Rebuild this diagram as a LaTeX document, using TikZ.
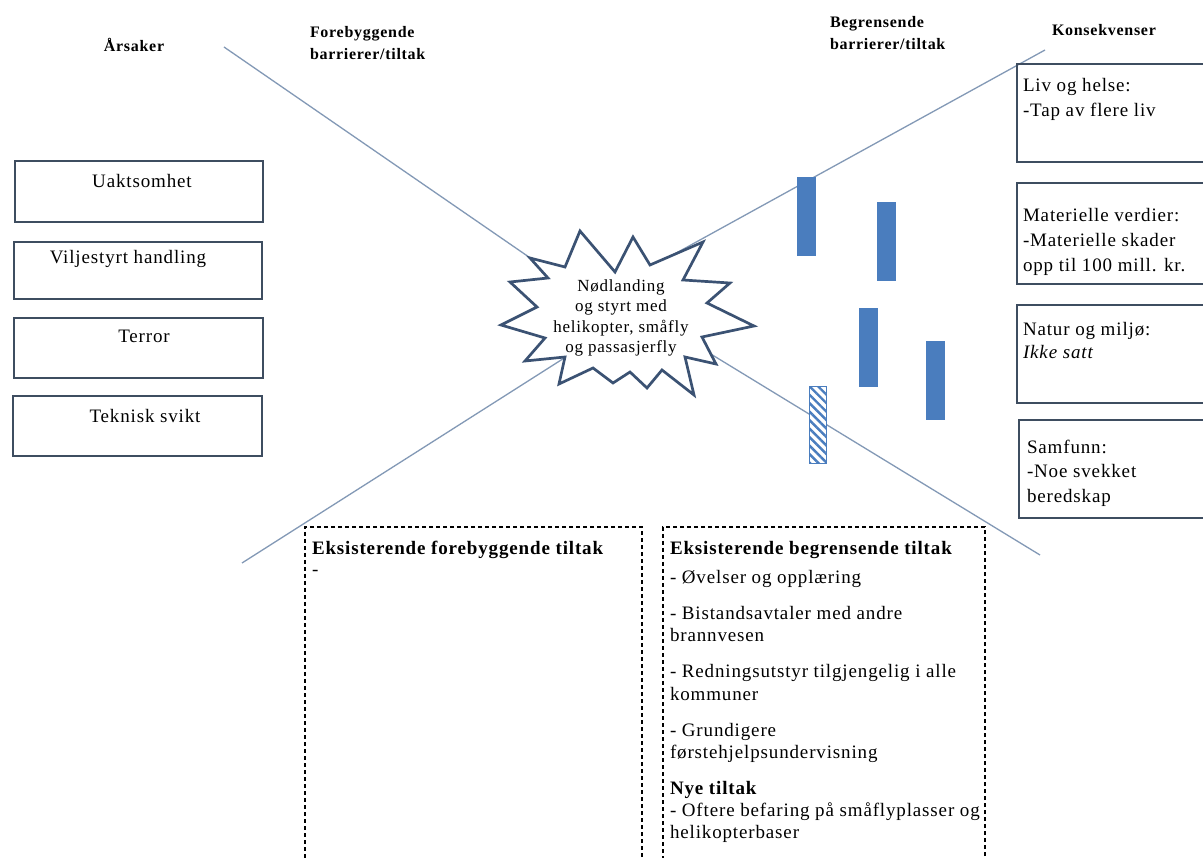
\documentclass[tikz,border=0pt]{standalone}
\usepackage{fontspec}
\setmainfont{Liberation Serif}[LetterSpace=4.5]
\usetikzlibrary{patterns.meta}
\definecolor{framecol}{HTML}{3E4D60}
\definecolor{axiscol}{HTML}{8399B6}
\definecolor{barcol}{HTML}{4A7DBE}
\definecolor{starcol}{HTML}{3B5273}
% struts that fix the first baseline of multi-line text blocks
\newcommand{\bodystrut}{\rule{0pt}{13pt}}
\newcommand{\headstrut}{\rule{0pt}{11.5pt}}
\begin{document}
\begin{tikzpicture}[x=1pt,y=-1pt,
  every node/.style={inner sep=0pt, outer sep=0pt},
  body/.style={font=\fontsize{19}{25}\selectfont, align=left},
  head/.style={font=\fontsize{16}{22}\selectfont\bfseries, align=left},
  frame/.style={draw=framecol, line width=2pt, rectangle},
  axis/.style={draw=axiscol, line width=1.3pt},
  bar/.style={rectangle, fill=barcol, draw=barcol, minimum width=18pt, minimum height=78pt},
  hatchbar/.style={rectangle, draw=barcol, line width=1.5pt, preaction={fill=white},
    pattern={Lines[angle=-45,distance=6pt,line width=2.4pt]}, pattern color=barcol,
    minimum width=17pt, minimum height=77pt},
  dashbox/.style={rectangle, draw=black, line width=1.1pt, dash pattern=on 4pt off 3pt},
]
\useasboundingbox[fill=white] (0,0) rectangle (1203,858);

% column headings
\node[head, anchor=base] (hcause) at (134,52) {Årsaker};
\node[head, anchor=north west] (hprev) at (310,26.5) {\headstrut Forebyggende\\barrierer/tiltak};
\node[head, anchor=north west] (hlim) at (830,16.5) {\headstrut Begrensende\\barrierer/tiltak};
\node[head, anchor=base west] (hcons) at (1052,36) {Konsekvenser};

% the four bow-tie arms, ending inside the central event
\coordinate (a1) at (224,47);   \coordinate (a2) at (600,306);
\coordinate (b1) at (1045,50);  \coordinate (b2) at (640,273);
\coordinate (c1) at (242,563);  \coordinate (c2) at (580,348);
\coordinate (d1) at (1040,555); \coordinate (d2) at (660,323);
\draw[axis] (a1) -- (a2);
\draw[axis] (b1) -- (b2);
\draw[axis] (c1) -- (c2);
\draw[axis] (d1) -- (d2);

% central event
\draw[starcol, line width=2.7pt, fill=white, line join=miter]
  (530,258) -- (565,267) -- (580,231) -- (615,272) -- (633,237) -- (650,265)
  -- (703,242) -- (683,280) -- (730,283) -- (707,303) -- (754,326) -- (702,337)
  -- (716,364) -- (685,357) -- (694,395) -- (662,370) -- (647,388) -- (630,372)
  -- (613,383) -- (593,368) -- (559,384) -- (565,357) -- (525,361) -- (545,338)
  -- (501,325) -- (537,307) -- (510,282) -- (548,278) -- cycle;
\node[font=\fontsize{17}{20.5}\selectfont, align=center] (event) at (621,318)
  {Nødlanding\\og styrt med\\helikopter, småfly\\og passasjerfly};

% causes
\node[frame, minimum width=248pt, minimum height=61pt] (k1) at (139,191.5) {};
\node[frame, minimum width=248pt, minimum height=57pt] (k2) at (138,270.5) {};
\node[frame, minimum width=249pt, minimum height=60pt] (k3) at (138.5,348) {};
\node[frame, minimum width=249pt, minimum height=60pt] (k4) at (137.5,426) {};
\node[body, anchor=base] (kt1) at (142,188) {Uaktsomhet};
\node[body, anchor=base] (kt2) at (128,264) {Viljestyrt handling};
\node[body, anchor=base] (kt3) at (144,343) {Terror};
\node[body, anchor=base] (kt4) at (145,423) {Teknisk svikt};

% barriers
\node[bar] (bar1) at (806,216) {};
\node[bar] (bar2) at (886,241) {};
\node[bar] (bar3) at (868,347) {};
\node[bar] (bar4) at (935,380) {};
\node[hatchbar] (bar5) at (818,425) {};

% consequences
\node[frame, minimum width=198pt, minimum height=98pt] (q1) at (1116,113) {};
\node[frame, minimum width=198pt, minimum height=101pt] (q2) at (1116,233.5) {};
\node[frame, minimum width=198pt, minimum height=98pt] (q3) at (1116,354) {};
\node[frame, minimum width=196pt, minimum height=98pt] (q4) at (1117,469) {};
\node[body, anchor=north west] (qt1) at (1023,78) {\bodystrut Liv og helse:\\-Tap av flere liv};
\node[body, anchor=north west] (qt2) at (1023,208) {\bodystrut Materielle verdier:\\-Materielle skader\\opp til 100 mill. kr.};
\node[body, anchor=north west, font=\fontsize{19}{23}\selectfont] (qt3) at (1023,322) {\bodystrut Natur og miljø:\\\textit{Ikke satt}};
\node[body, anchor=north west, font=\fontsize{19}{24.5}\selectfont] (qt4) at (1027,440) {\bodystrut Samfunn:\\-Noe svekket\\beredskap};

% existing and new measures
\node[dashbox, minimum width=337pt, minimum height=343pt] (mprev) at (473.5,698.5) {};
\node[dashbox, minimum width=322pt, minimum height=343pt] (mlim) at (824,698.5) {};
\node[body, anchor=north west, font=\fontsize{19}{21}\selectfont] (mpt) at (312,541)
  {\bodystrut\textbf{Eksisterende forebyggende tiltak}\\-};
\node[body, anchor=north west, font=\fontsize{19}{22.5}\selectfont] (mlt) at (670,541)
  {\bodystrut\textbf{Eksisterende begrensende tiltak}\\[6.5pt]
   - Øvelser og opplæring\\[13.5pt]
   - Bistandsavtaler med andre\\
   brannvesen\\[13.5pt]
   - Redningsutstyr tilgjengelig i alle\\
   kommuner\\[13.5pt]
   - Grundigere\\
   førstehjelpsundervisning\\[13.5pt]
   \textbf{Nye tiltak}\\[-0.5pt]
   - Oftere befaring på småflyplasser og\\[-0.5pt]
   helikopterbaser};
\end{tikzpicture}
\end{document}
